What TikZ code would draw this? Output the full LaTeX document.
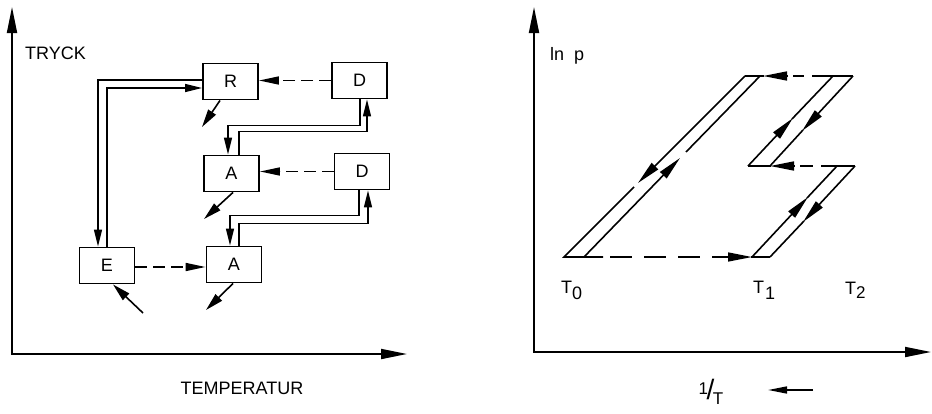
\documentclass[tikz,border=0pt]{standalone}
\usepackage{fontspec}
\setmainfont{Liberation Sans}
\usetikzlibrary{arrows.meta}
\begin{document}
\begin{tikzpicture}[x=1pt,y=-1pt,
  lab/.style={font=\fontsize{18}{20}\selectfont,inner sep=0pt},
  box/.style={draw,line width=1.9pt,minimum width=55pt,minimum height=36pt,inner sep=0pt,font=\fontsize{18}{20}\selectfont},
  conn/.style={line width=1.6pt},
  ln/.style={line width=1.6pt},
  tip/.style={-{Triangle[length=17pt,width=8pt]}},
  dtip/.style={-{Triangle[length=20pt,width=8pt]}},
  btip/.style={-{Triangle[length=18pt,width=9pt]}},
  rtip/.style={-{Triangle[length=24pt,width=9pt]}},
  atip/.style={{Triangle[length=26pt,width=10pt]}-{Triangle[length=26pt,width=10pt]}},
  dsh/.style={line width=1.6pt,dash pattern=on 12pt off 6pt}]
\useasboundingbox (0,0) rectangle (932,413);

% ---------- left diagram ----------
\draw[line width=1.8pt,atip] (12,7) -- (12,354) -- (407,354);
\node[lab] (tryck) at (55.5,53) {TRYCK};
\node[lab] (temp) at (242,388) {TEMPERATUR};

\node[box] (R)  at (230.5,81.5) {R};
\node[box] (D1) at (359.5,80.5) {D};
\node[box] (A1) at (231.5,173.5) {A};
\node[box] (D2) at (362,171.5) {D};
\node[box] (E)  at (107,265.5) {E};
\node[box] (A2) at (234,264.5) {A};

\draw[conn,tip] ([yshift=1.5pt]R.west) -| ([xshift=-9pt]E.north);
\draw[conn,tip] (E.north) |- ([yshift=-6.5pt]R.west);

\draw[conn,tip] ([xshift=.5pt]D1.south) -- ++(0,26) -| ([xshift=-3.5pt]A1.north);
\draw[conn,tip] ([xshift=7.5pt]A1.north) -- ++(0,-23) -| ([xshift=7.5pt]D1.south);
\draw[conn,tip] ([xshift=-3pt]D2.south) -- ++(0,25) -| ([xshift=-4pt]A2.north);
\draw[conn,tip] ([xshift=5pt]A2.north) -- ++(0,-22) -| ([xshift=6pt]D2.south);

\draw[dsh,dtip] (D1.west) -- (D1.west -| R.east);
\draw[dsh,dtip] (D2.west) -- (D2.west -| A1.east);
\draw[dsh,dtip] ([yshift=-1.5pt]E.east) -- ([yshift=-1.5pt]E.east -| A2.west);

\coordinate (r1) at (202,127);
\coordinate (a1) at (204,219);
\coordinate (a2) at (206,310);
\coordinate (e1) at (143,313);
\draw[conn,btip] ([xshift=-10.5pt]R.south) -- (r1);
\draw[conn,btip] ([xshift=1.5pt]A1.south) -- (a1);
\draw[conn,btip] ([xshift=-1pt]A2.south) -- (a2);
\draw[conn,btip] (e1) -- ([xshift=6pt]E.south);

% ---------- right diagram ----------
\draw[line width=1.8pt,atip] (534,7) -- (534,352) -- (931,352);
\node[lab,anchor=west] (lnp) at (550,56) {ln\hspace{10pt}p};
\node[lab,anchor=west] (t0) at (561,290) {T\raisebox{-6pt}{\fontsize{18}{18}\selectfont 0}};
\node[lab,anchor=west] (t1) at (753,290) {T\raisebox{-6pt}{\fontsize{18}{18}\selectfont\hspace{1pt}1}};
\node[lab,anchor=west] (t2) at (845,290) {T\raisebox{-4pt}{\fontsize{17}{17}\selectfont 2}};
\node[inner sep=0pt,font=\fontsize{17}{17}\selectfont] (inv) at (711,392)
  {\raisebox{5pt}{1}\kern-1.5pt{\fontsize{28}{28}\selectfont/}\kern-1.5pt\raisebox{-5pt}{T}};
\coordinate (la) at (813,390);
\coordinate (lb) at (768,390);
\draw[ln,-{Triangle[length=19pt,width=7pt]}] (la) -- (lb);

% big parallelogram
\draw[ln,rtip] (745,76) -- (638,183);
\draw[ln] (634,187) -- (564,257) -- (603,257);
\draw[ln,rtip] (584,257) -- (680,158);
\draw[ln] (686,152) -- (760,76);
% top line
\draw[ln] (745,76) -- (764,76);
\draw[ln,rtip] (788,76) -- (763,76);
\draw[ln] (793,76) -- (804,76);
\draw[ln] (812,76) -- (853,76);
% upper Z
\draw[ln,rtip] (748,166) -- (793,118);
\draw[ln] (792,119) -- (833,76);
\draw[ln,rtip] (853,76) -- (802,131);
\draw[ln] (803,130) -- (770,166);
% middle line
\draw[ln] (748,166) -- (771,166);
\draw[ln,rtip] (794,166) -- (770,166);
\draw[ln] (800,166) -- (813,166);
\draw[ln] (821,166) -- (855,166);
% lower Z
\draw[ln,rtip] (752,257) -- (808,197);
\draw[ln] (807,198) -- (837,166);
\draw[ln,rtip] (855,166) -- (803,222);
\draw[ln] (804,221) -- (770,257);
% bottom line
\draw[ln,dash pattern=on 22pt off 12pt] (610,257) -- (728,257);
\draw[ln,rtip] (726,257) -- (752,257);
\draw[ln] (751,257) -- (770,257);
\end{tikzpicture}
\end{document}
